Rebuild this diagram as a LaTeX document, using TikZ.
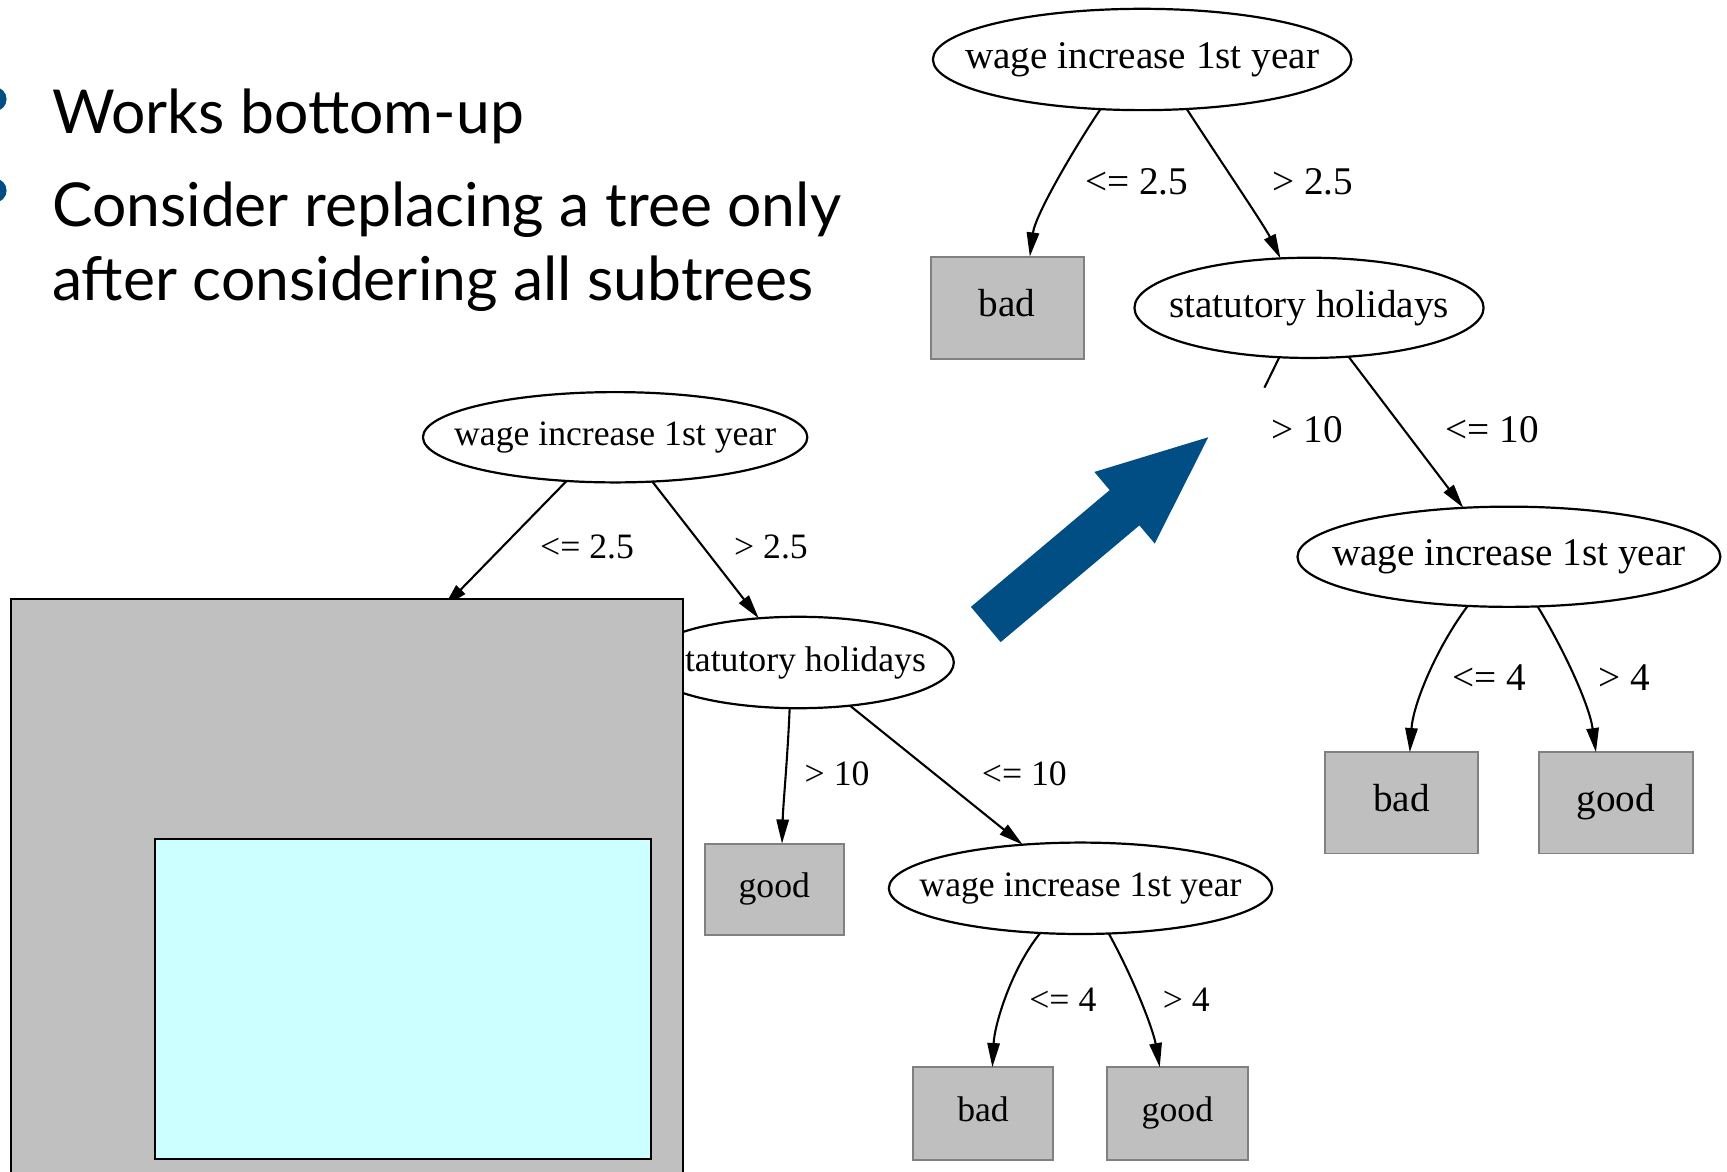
\documentclass[tikz,border=0pt]{standalone}
\usepackage{fontspec}
\setmainfont{Liberation Serif}
\newfontfamily\slidefont{Lato}
\usetikzlibrary{arrows.meta,shapes.geometric}
\definecolor{slideblue}{RGB}{0,78,132}
\definecolor{leafgray}{RGB}{191,191,191}
\definecolor{leafedge}{RGB}{128,128,128}
\definecolor{covergray}{RGB}{192,192,192}
\definecolor{covercyan}{RGB}{204,255,255}
\newcommand{\zw}[1]{\makebox[0pt]{#1}}
\begin{document}
\begin{tikzpicture}[x=0.5pt,y=-0.5pt,
  decision/.style={ellipse,draw=black,line width=1pt,fill=white,inner sep=0pt,outer sep=0pt},
  leaf/.style={rectangle,draw=leafedge,line width=0.8pt,fill=leafgray,inner sep=0pt,outer sep=0pt},
  rfont/.style={font=\fontsize{17.8}{20}\selectfont},
  lfont/.style={font=\fontsize{16.2}{18}\selectfont},
  rleaf/.style={leaf,rfont,text height=12.1pt,text depth=3.9pt},
  lleaf/.style={leaf,lfont,text height=11pt,text depth=3.6pt},
  edge/.style={line width=0.95pt,-{Triangle[length=11pt,width=5.6pt]}},
  plainedge/.style={line width=0.95pt},
  lbl/.style={inner sep=0pt},
  bullettext/.style={anchor=base west,inner sep=0pt,font=\slidefont\fontsize{27.5}{30}\selectfont},
  bulletdot/.style={circle,fill=slideblue,inner sep=0pt,minimum size=11pt},
  coverbox/.style={fill=covergray,draw=black,line width=1pt},
  cyanbox/.style={fill=covercyan,draw=black,line width=1pt},
]
\useasboundingbox (0,0) rectangle (1568,1064);

% bullets and text
\node[bulletdot] (b1) at (-5,90) {};
\node[bulletdot] (b2) at (-5,173) {};
\node[bullettext] (t1) at (47,121) {Works bottom-up};
\node[bullettext] (t2) at (47,206) {Consider replacing a tree only};
\node[bullettext] (t3) at (47,273) {after considering all subtrees};

% ---------- left tree ----------
\node[decision,lfont,minimum width=174.5pt,minimum height=41pt] (lroot) at (558.5,397) {\zw{wage increase 1st year}};
\node[decision,lfont,minimum width=141pt,minimum height=41.5pt] (lstat) at (725,601.5) {\zw{statutory holidays}};
\node[lleaf,minimum width=63pt,minimum height=41.5pt] (lgood) at (703,807.5) {good};
\node[decision,lfont,minimum width=174pt,minimum height=41.5pt] (lwage) at (981,806.5) {\zw{wage increase 1st year}};
\node[lleaf,minimum width=63.5pt,minimum height=42pt] (lbad2) at (892.5,1011) {bad};
\node[lleaf,minimum width=64pt,minimum height=42pt] (lgood2) at (1069,1011) {good};
\coordinate (lhid) at (403,551);

\draw[edge] (lroot.222.7) -- (lhid);
\draw[edge] (lroot.310.2) -- (lstat.132.7);
\draw[edge] (lstat.259.1) .. controls (715,690) and (711,730) .. ([xshift=3.5pt]lgood.north);
\draw[edge] (lstat.320.9) -- (lwage.143.3);
\draw[edge] (lwage.228.4) .. controls (918,880) and (903,930) .. ([xshift=4.25pt]lbad2.north);
\draw[edge] (lwage.302.4) .. controls (1030,890) and (1047,935) .. ([xshift=-8pt]lgood2.north);

\node[lbl,lfont] (ll1) at (533,497) {<= 2.5};
\node[lbl,lfont] (ll2) at (700,497) {> 2.5};
\node[lbl,lfont] (ll3) at (760,703) {> 10};
\node[lbl,lfont] (ll4) at (930,703) {<= 10};
\node[lbl,lfont] (ll5) at (965,908) {<= 4};
\node[lbl,lfont] (ll6) at (1077,908) {> 4};

% covering boxes
\filldraw[coverbox] (10,544) rectangle (620,1075);
\filldraw[cyanbox] (141,762) rectangle (591,1052);

% ---------- right tree ----------
\node[decision,rfont,minimum width=190pt,minimum height=46pt] (rroot) at (1037,54) {\zw{wage increase 1st year}};
\node[rleaf,minimum width=69.5pt,minimum height=46.5pt] (rbad1) at (914.5,279.5) {bad};
\node[decision,rfont,minimum width=158.5pt,minimum height=45.5pt] (rstat) at (1188.5,279.5) {\zw{statutory holidays}};
\node[decision,rfont,minimum width=192pt,minimum height=45.5pt] (rwage) at (1370,505.5) {\zw{wage increase 1st year}};
\node[rleaf,minimum width=69.5pt,minimum height=46pt] (rbad2) at (1272.5,729) {bad};
\node[rleaf,minimum width=70pt,minimum height=46pt] (rgood2) at (1467,729) {good};
\coordinate (rcut) at (1148,352);

\draw[edge] (rroot.230.6) .. controls (975,135) and (940,195) .. ([xshift=10.25pt]rbad1.north);
\draw[edge] (rroot.312.4) .. controls (1108,146) and (1148,205) .. (rstat.120.1);
\draw[plainedge] (rstat.239.9) -- (rcut);
\draw[edge] (rstat.309.9) -- (rwage.133.4);
\draw[edge] (rwage.230.3) .. controls (1303,590) and (1283,640) .. ([xshift=3.75pt]rbad2.north);
\draw[edge] (rwage.300.9) .. controls (1420,590) and (1443,640) .. ([xshift=-9pt]rgood2.north);

\node[lbl,rfont] (rl1) at (1032,165) {<= 2.5};
\node[lbl,rfont] (rl2) at (1192,165) {> 2.5};
\node[lbl,rfont] (rl3) at (1187,390) {> 10};
\node[lbl,rfont] (rl4) at (1355,390) {<= 10};
\node[lbl,rfont] (rl5) at (1352,615) {<= 4};
\node[lbl,rfont] (rl6) at (1475,615) {> 4};

% ---------- blue block arrow ----------
\fill[slideblue] (881.5,551) -- (1007.5,445) -- (993.6,428.5) -- (1097,397) -- (1048.4,493.5) -- (1034.5,477) -- (908.5,583) -- cycle;
\end{tikzpicture}
\end{document}
